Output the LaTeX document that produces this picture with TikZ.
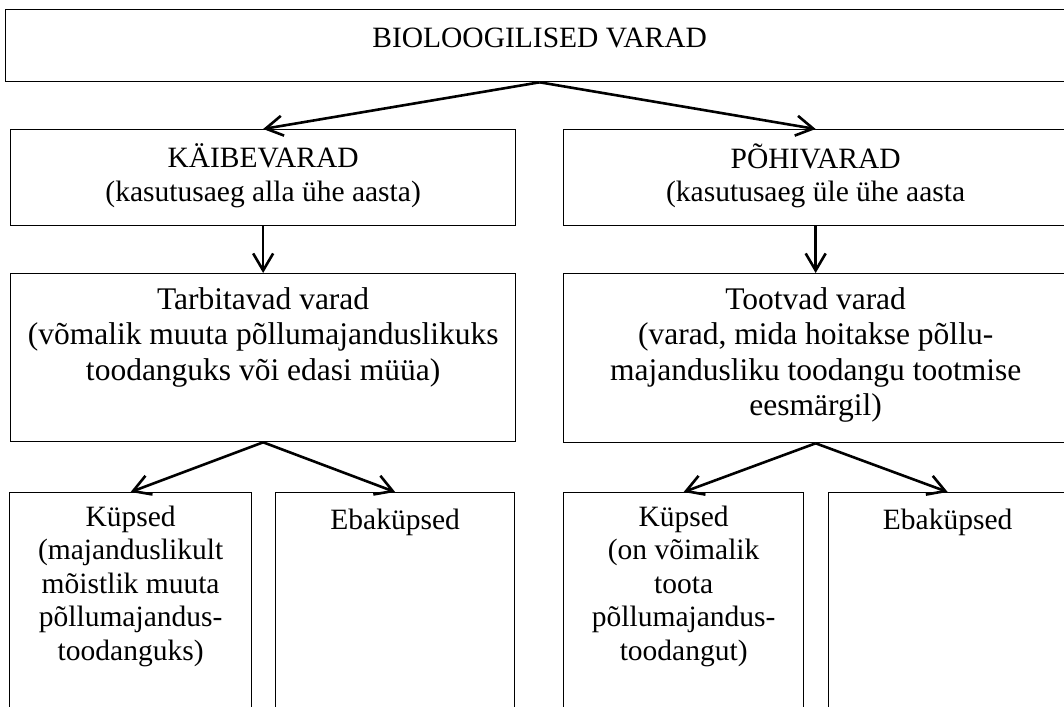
\documentclass[tikz,border=0pt]{standalone}
\usepackage{fontspec}
\setmainfont{Liberation Serif}
\usetikzlibrary{arrows.meta}

\tikzset{
  box/.style={draw, line width=1.3pt, rectangle, inner sep=0pt, anchor=north west},
  txt/.style={anchor=north, align=center, inner sep=0pt,
              font=\fontsize{29.5}{33.6}\selectfont, execute at begin node=\strut},
  bigtxt/.style={txt, font=\fontsize{31.5}{35.5}\selectfont},
  arr/.style={line width=2.6pt, -{Straight Barb[length=17pt,width=20pt]}}
}

\begin{document}
\begin{tikzpicture}[x=1pt, y=-1pt]
  \useasboundingbox (0,0) rectangle (1064,706);
  \clip (0,0) rectangle (1064,706);
  \fill[white] (0,0) rectangle (1064,706);

  % boxes, top row to bottom row
  \node[box, minimum width=1068pt, minimum height=72pt]  (bio)   at (5,9) {};
  \node[box, minimum width=505pt,  minimum height=96pt]  (kaibe) at (10,129) {};
  \node[box, minimum width=504pt,  minimum height=96pt]  (pohi)  at (563,129) {};
  \node[box, minimum width=505pt,  minimum height=168pt] (tarb)  at (10,273) {};
  \node[box, minimum width=504pt,  minimum height=169pt] (toot)  at (563,273) {};
  \node[box, minimum width=242pt,  minimum height=240pt] (kup1)  at (9,492) {};
  \node[box, minimum width=239pt,  minimum height=240pt] (eba1)  at (275,492) {};
  \node[box, minimum width=240pt,  minimum height=240pt] (kup2)  at (563,492) {};
  \node[box, minimum width=238pt,  minimum height=240pt] (eba2)  at (828,492) {};

  % texts
  \node[txt] (tbio)   at ([yshift=-14.5pt]bio.north)   {BIOLOOGILISED VARAD};
  \node[txt] (tkaibe) at ([yshift=-14.5pt]kaibe.north) {KÄIBEVARAD\\(kasutusaeg alla ühe aasta)};
  \node[txt] (tpohi)  at ([yshift=-14.5pt]pohi.north)  {PÕHIVARAD\\(kasutusaeg üle ühe aasta};
  \node[bigtxt] (ttarb) at ([yshift=-14.2pt]tarb.north) {Tarbitavad varad\\(võmalik muuta põllumajanduslikuks\\toodanguks või edasi müüa)};
  \node[bigtxt] (ttoot) at ([yshift=-14.2pt]toot.north) {Tootvad varad\\(varad, mida hoitakse põllu-\\majandusliku toodangu tootmise\\eesmärgil)};
  \node[txt] (tkup1)  at ([yshift=-13.5pt]kup1.north)  {Küpsed\\(majanduslikult\\mõistlik muuta\\põllumajandus-\\toodanguks)};
  \node[txt] (teba1)  at ([yshift=-13.5pt]eba1.north)  {Ebaküpsed};
  \node[txt] (tkup2)  at ([yshift=-13.5pt]kup2.north)  {Küpsed\\(on võimalik\\toota\\põllumajandus-\\toodangut)};
  \node[txt] (teba2)  at ([yshift=-13.5pt]eba2.north)  {Ebaküpsed};

  % connectors
  \draw[arr] (bio.south)   -- (kaibe.north);
  \draw[arr] (bio.south)   -- (pohi.north);
  \draw[arr] (kaibe.south) -- (tarb.north);
  \draw[arr] (pohi.south)  -- (toot.north);
  \draw[arr] (tarb.south)  -- (kup1.north);
  \draw[arr] (tarb.south)  -- (eba1.north);
  \draw[arr] (toot.south)  -- (kup2.north);
  \draw[arr] (toot.south)  -- (eba2.north);
\end{tikzpicture}
\end{document}
